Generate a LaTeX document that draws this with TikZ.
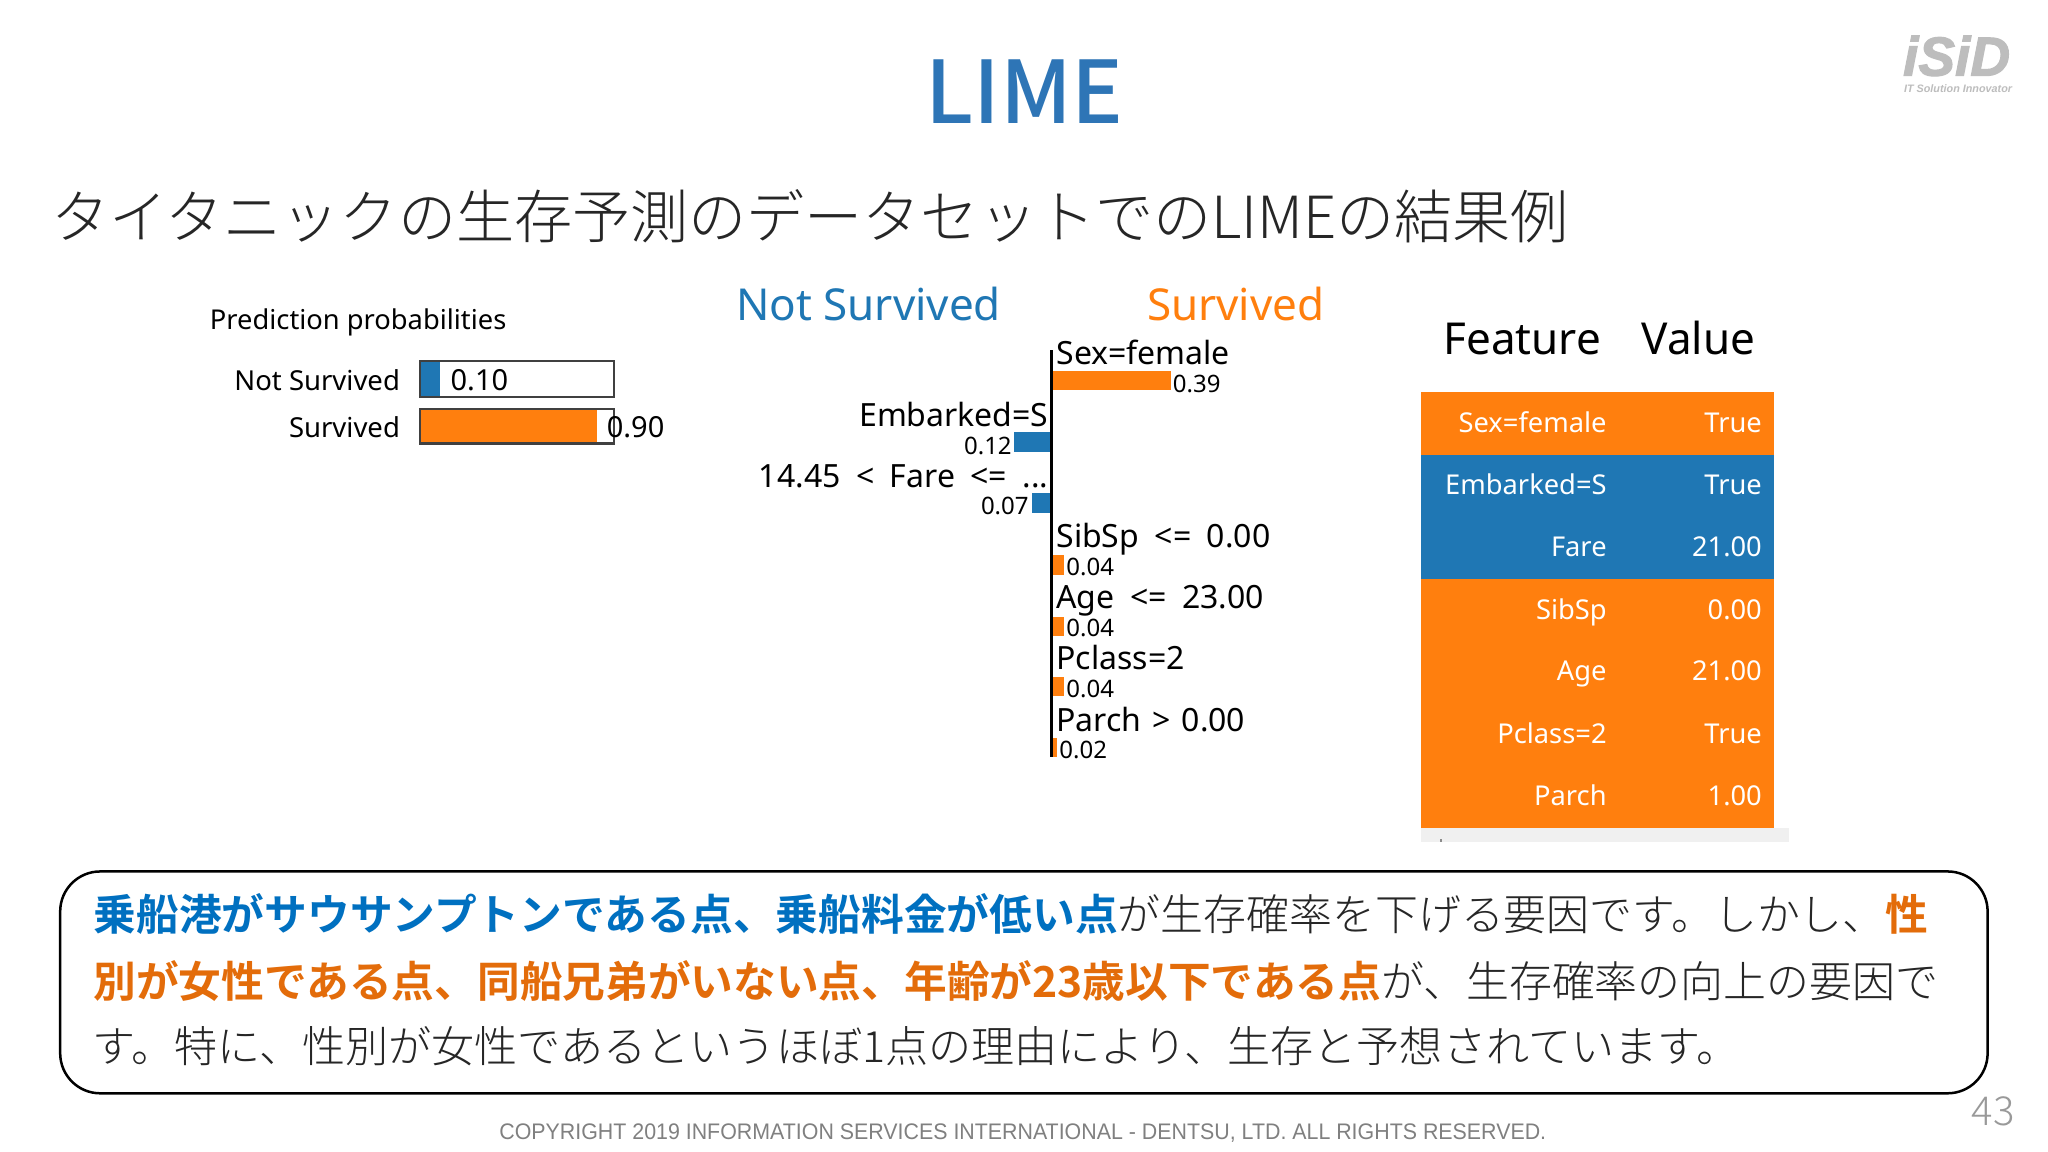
\documentclass[tikz,border=0pt]{standalone}
\usepackage{fontspec}
\setmainfont{Noto Sans}
\newfontfamily\jp[BoldFont={Noto Sans CJK JP Bold}]{Noto Sans CJK JP Light}
\newfontfamily\jptitle{Noto Sans CJK JP Medium}
\newfontfamily\arialf{Liberation Sans}
\newfontfamily\copyf[FakeStretch=0.95]{Liberation Sans}
\newfontfamily\logof[BoldItalicFeatures={FakeBold=2}]{Liberation Sans}
\newcommand{\fsz}[1]{\fontsize{#1}{#1}\selectfont}
\newcommand{\bigfnt}{\fsz{32}\spaceskip=15.5pt\relax}
\newcommand{\hlb}[1]{\textcolor{txtblue}{\bfseries\fsz{42.75}#1}}
\newcommand{\hlo}[1]{\textcolor{txtorange}{\bfseries\fsz{42.7}#1}}
\definecolor{mplblue}{HTML}{1F77B4}
\definecolor{mplorange}{HTML}{FF7F0E}
\definecolor{titleblue}{HTML}{2E75B6}
\definecolor{txtblue}{HTML}{0070C0}
\definecolor{txtorange}{HTML}{E36C0A}
\definecolor{txtgray}{HTML}{262626}
\definecolor{logogray}{HTML}{BDBDBD}
\tikzset{
  t/.style={inner sep=0pt,outer sep=0pt,anchor=base west},
  tr/.style={inner sep=0pt,outer sep=0pt,anchor=base east},
  big/.style={font=\bigfnt},
  small/.style={font=\fsz{24}},
  prob/.style={font=\fsz{27.5}},
  probnum/.style={font=\fsz{29}},
  tab/.style={font=\fsz{27.3},text=white},
  head/.style={font=\fsz{44}}
}
\begin{document}
\begin{tikzpicture}[x=0.9948pt,y=-0.9948pt]
\useasboundingbox (0,0) rectangle (2058.7,1158);
\fill[white] (0,0) rectangle (2058.7,1158);
% title
\node[t,text=titleblue,font=\jptitle\fsz{86.5}] (title) at (930,124) {LIME};
\node[t,text=txtgray,font=\jp\fsz{58.1}] (sub) at (52,239.5) {タイタニックの生存予測のデータセットでのLIMEの結果例};
% logo
\node[t,text=logogray,font=\logof\bfseries\itshape\fsz{55}] (logo) at (1913,76) {iSiD};
\node[t,text=logogray,font=\arialf\bfseries\itshape\fsz{10.8}] (logosub) at (1914,93) {IT Solution Innovator};
% probabilities
\node[t,font=\fsz{27.3}] (pp) at (211,331) {Prediction probabilities};
\node[tr,prob] (l1) at (402,393) {Not Survived};
\node[tr,prob] (l2) at (402,440) {Survived};
\fill[mplblue] (422,363) rectangle (442,399);
\draw[line width=2.5pt,draw=black!75] (422,363) rectangle (617,399);
\fill[mplorange] (422,411) rectangle (600,446);
\draw[line width=2.5pt,draw=black!75] (422,411) rectangle (617,446);
\node[t,probnum] (v1) at (453,393) {0.10};
\node[t,probnum] (v2) at (610,440) {0.90};
% chart headers
\node[t,font=\fsz{44},text=mplblue] (hn) at (740,322) {Not Survived};
\node[t,font=\fsz{44},text=mplorange] (hs) at (1153,322) {Survived};
% bars
\fill[mplorange] (1057,373) rectangle (1177,392);
\fill[mplblue] (1019,434) rectangle (1057,454);
\fill[mplblue] (1037,496) rectangle (1057,516);
\fill[mplorange] (1057,558) rectangle (1070,578);
\fill[mplorange] (1057,620) rectangle (1070,639);
\fill[mplorange] (1057,681) rectangle (1070,700);
\fill[mplorange] (1057,742) rectangle (1063,761);
\draw[line width=3.5pt,black] (1057,352) -- (1057,761);
\node[t,big] (f1) at (1062,366.5) {Sex=female};
\node[t,small] (n1) at (1179,394.5) {0.39};
\node[tr,big] (f2) at (1054,428.5) {Embarked=S};
\node[tr,small] (n2) at (1017,456.5) {0.12};
\node[tr,big] (f3) at (1054,490) {14.45 < Fare <= ...};
\node[tr,small] (n3) at (1034,517.5) {0.07};
\node[t,big] (f4) at (1062,550.5) {SibSp <= 0.00};
\node[t,small] (n4) at (1072,578.5) {0.04};
\node[t,big] (f5) at (1062,611.5) {Age <= 23.00};
\node[t,small] (n5) at (1072,639.5) {0.04};
\node[t,big] (f6) at (1062,672.5) {Pclass=2};
\node[t,small] (n6) at (1072,701.5) {0.04};
\node[t,big] (f7) at (1062,735.5) {\spaceskip=11pt\relax Parch > 0.00};
\node[t,small] (n7) at (1065,762.5) {0.02};
% table
\node[t,head] (th1) at (1451,356) {Feature};
\node[t,head] (th2) at (1650,356) {Value};
\fill[black!6] (1428,832) rectangle (1798,846);
\fill[black!45] (1448,843) rectangle (1450,846);
\fill[mplorange] (1428,394) rectangle (1783,457);
\fill[mplblue] (1428,457) rectangle (1783,582);
\fill[mplorange] (1428,582) rectangle (1783,832);
\foreach \i/\a/\b/\yy in {1/Sex=female/True/434.3,2/Embarked=S/True/497.3,3/Fare/21.00/559.3,4/SibSp/0.00/622.3,5/Age/21.00/684.3,6/Pclass=2/True/747.3,7/Parch/1.00/809.3}{
  \node[tr,tab] (ta\i) at (1615,\yy) {\a};
  \node[tr,tab] (tb\i) at (1771,\yy) {\b};
}
% callout
\draw[line width=2.5pt,rounded corners=40pt,fill=white] (60.5,876) rectangle (1998,1099) ;
\node[t,font=\jp\fsz{42.9},text=txtgray] (c1) at (94,935.5) {\hlb{乗船港がサウサンプトンである点、乗船料金が低い点}が生存確率を下げる要因です。しかし、\hlo{性}};
\node[t,font=\jp\fsz{42.9},text=txtgray] (c2) at (94,1002.5) {\hlo{別が女性である点、同船兄弟がいない点、年齢が23歳以下である点}が、生存確率の向上の要因で};
\node[t,font=\jp\fsz{43.1},text=txtgray] (c3) at (93,1068.5) {す。特に、性別が女性であるというほぼ1点の理由により、生存と予想されています。};
% footer
\node[t,font=\copyf\fsz{22.5},text=black!50] (copy) at (502,1145) {COPYRIGHT 2019 INFORMATION SERVICES INTERNATIONAL - DENTSU, LTD. ALL RIGHTS RESERVED.};
\node[tr,font=\jp\fsz{40},text=black!40] (page) at (2025,1131) {43};
\end{tikzpicture}
\end{document}
